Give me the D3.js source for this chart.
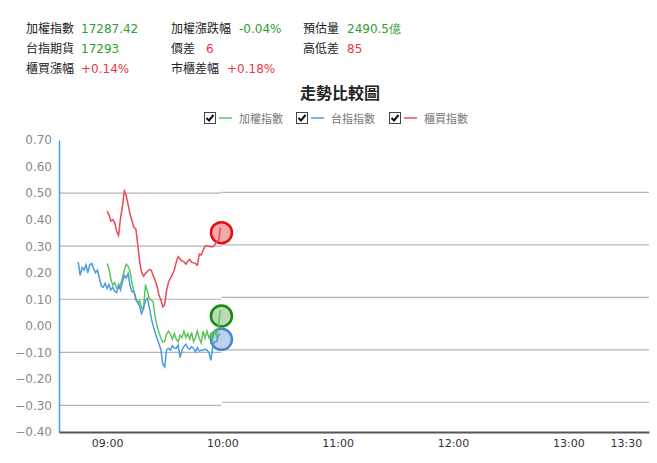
<!DOCTYPE html>
<html>
<head>
<meta charset="utf-8">
<script src="https://cdn.jsdelivr.net/npm/d3@7"></script>
<style>
  body { margin: 0; background: #fff; }
  text { font-family: "DejaVu Sans", Verdana, sans-serif; }
  .cjk { font-family: "Noto Sans CJK TC", "Noto Sans CJK SC", sans-serif; }
</style>
</head>
<body>
<script>
// header info (label, value, colour class)
let infoLabels = [
  ["加權指數", "加權漲跌幅", "預估量"],
  ["台指期貨", "價差", "高低差"],
  ["櫃買漲幅", "市櫃差幅", null],
];
let infoValues = [
  ["17287.42", "-0.04%", "2490.5億"],
  ["17293", "6", "85"],
  ["+0.14%", "+0.18%", null],
];
let infoUp = [
  [false, false, false],
  [false, true, true],
  [true, true, null],
];

let seriesNames = ["加權指數", "台指指數", "櫃買指數"];
let seriesStart = ["09:00", "08:45", "09:00"];

// one value per minute, % change
let taiexValues = [
  0.235, 0.215, 0.175, 0.153, 0.163, 0.142, 0.14, 0.155, 0.18, 0.21,
  0.232, 0.224, 0.205, 0.16, 0.128, 0.105, 0.085, 0.095, 0.065, 0.07,
  0.155, 0.13, 0.103, 0.097, 0.09, 0.035, 0.0, -0.025, -0.046, -0.061,
  -0.058, -0.03, -0.02, -0.032, -0.05, -0.03, -0.05, -0.06, -0.035, -0.045,
  -0.02, -0.045, -0.03, -0.05, -0.025, -0.06, -0.045, -0.02, -0.047, -0.065,
  -0.02, -0.047, -0.02, -0.045, -0.03, -0.05, -0.02, -0.04, 0.0, 0.06,
];
let futuresValues = [
  0.24, 0.19, 0.22, 0.21, 0.23, 0.2, 0.23, 0.235, 0.215, 0.2,
  0.21, 0.18, 0.15, 0.145, 0.16,
  0.14, 0.155, 0.135, 0.145, 0.13, 0.125, 0.155, 0.135, 0.165, 0.19,
  0.18, 0.197, 0.15, 0.128, 0.13, 0.097, 0.09, 0.071, 0.046, 0.065,
  0.097, 0.103, 0.07, 0.03, 0.0, -0.025, -0.048, -0.068, -0.09, -0.145,
  -0.155, -0.09, -0.085, -0.092, -0.075, -0.084, -0.085, -0.072, -0.12, -0.092,
  -0.078, -0.07, -0.083, -0.088, -0.078, -0.085, -0.098, -0.082, -0.095, -0.092,
  -0.092, -0.088, -0.092, -0.1, -0.13, -0.078, -0.06, -0.06, -0.035, -0.03,
];
let otcValues = [
  0.432, 0.418, 0.395, 0.4, 0.388, 0.355, 0.34, 0.405, 0.45, 0.508,
  0.49, 0.455, 0.42, 0.395, 0.37, 0.365, 0.305, 0.241, 0.2, 0.187,
  0.197, 0.205, 0.212, 0.21, 0.19, 0.172, 0.15, 0.115, 0.098, 0.071,
  0.08, 0.135, 0.165, 0.18, 0.193, 0.21, 0.24, 0.26, 0.252, 0.244,
  0.242, 0.232, 0.243, 0.25, 0.24, 0.237, 0.235, 0.228, 0.27, 0.267,
  0.285, 0.3, 0.302, 0.3, 0.298, 0.298, 0.304, 0.317, 0.32, 0.37,
];
// where the end markers sit
let markerValues = [0.037, -0.051, 0.351];

let yTicks = [0.7, 0.6, 0.5, 0.4, 0.3, 0.2, 0.1, 0.0, -0.1, -0.2, -0.3, -0.4];
let gridValues = [0.5, 0.3, 0.1, -0.1, -0.3];
let xTickLabels = ["09:00", "10:00", "11:00", "12:00", "13:00", "13:30"];

let lineColors = ["#5cc65c", "#4a9ae6", "#ea4a56"];
let markerStroke = ["#118a11", "#4f84cf", "#e01010"];
let markerFill = ["#bcd8b6", "#bed2ec", "#f6a9ac"];

let width = 657;
let height = 463;

let parse = d3.timeParse("%H:%M");
let xScale = d3
  .scaleTime()
  .domain([parse("08:35"), parse("13:42")])
  .range([59, 649]);
let yScale = d3.scaleLinear().domain([-0.4, 0.7]).range([432, 140]);
// the part after the last data point sits a touch higher
let yScale2 = d3.scaleLinear().domain([-0.4, 0.7]).range([428.5, 140]);

let svg = d3
  .select("body")
  .append("svg")
  .attr("width", width)
  .attr("height", height);

// header
let colX = [26, 171, 303];
let valX = [[81, 81, 81], [239, 206, 227], [347, 347, 0]];
infoLabels.forEach((row, r) => {
  row.forEach((lab, c) => {
    if (!lab) return;
    let y = 33 + r * 20;
    svg.append("text").attr("class", "cjk")
      .attr("x", colX[c]).attr("y", y)
      .attr("font-size", 12).attr("fill", "#222")
      .text(lab);
    svg.append("text")
      .attr("x", valX[c][r]).attr("y", y)
      .attr("font-size", 12)
      .attr("fill", infoUp[r][c] ? "#e8363f" : "#2f9e2f")
      .text(infoValues[r][c]);
  });
});

svg.append("text").attr("class", "cjk")
  .attr("x", 340).attr("y", 99)
  .attr("text-anchor", "middle")
  .attr("font-size", 16).attr("font-weight", "bold").attr("fill", "#222")
  .text("走勢比較圖");

// legend
let legendX = [204, 296, 389];
seriesNames.forEach((name, i) => {
  let g = svg.append("g").attr("transform", `translate(${legendX[i]},112)`);
  g.append("rect").attr("x", 0.5).attr("y", 0.5).attr("width", 11).attr("height", 11)
    .attr("fill", "#fff").attr("stroke", "#444");
  g.append("path").attr("d", "M2.5,6 L5,8.5 L9.5,3")
    .attr("fill", "none").attr("stroke", "#111").attr("stroke-width", 2);
  g.append("line").attr("x1", 15).attr("x2", 28).attr("y1", 6).attr("y2", 6)
    .attr("stroke", lineColors[i]).attr("stroke-width", 1.5);
  g.append("text").attr("class", "cjk")
    .attr("x", 35).attr("y", 10.5)
    .attr("font-size", 11).attr("fill", "#777")
    .text(name);
});

// grid lines, two pieces
let splitX = xScale(parse("10:00")) - 1;
svg.selectAll(".gridL").data(gridValues).enter().append("line")
  .attr("x1", 59).attr("x2", splitX)
  .attr("y1", (d) => yScale(d)).attr("y2", (d) => yScale(d))
  .attr("stroke", "#b4b4b4").attr("stroke-width", 1.2);
svg.selectAll(".gridR").data(gridValues).enter().append("line")
  .attr("x1", splitX).attr("x2", 649)
  .attr("y1", (d) => yScale2(d)).attr("y2", (d) => yScale2(d))
  .attr("stroke", "#b4b4b4").attr("stroke-width", 1.2);

// y axis
let yAxis = d3.axisLeft(yScale).tickValues(yTicks).tickSize(0).tickPadding(7)
  .tickFormat(d3.format(".2f"));
let yg = svg.append("g").attr("transform", "translate(59,0)").call(yAxis);
yg.select(".domain").attr("stroke", "#4a9ae6").attr("stroke-width", 1.5);
yg.selectAll("text").attr("font-size", 12).attr("fill", "#8a8a8a")
  .attr("font-family", "DejaVu Sans, Verdana, sans-serif");

// x axis
let xAxis = d3.axisBottom(xScale)
  .tickValues(xTickLabels.map(parse))
  .tickSize(0).tickPadding(7)
  .tickFormat(d3.timeFormat("%H:%M"));
let xg = svg.append("g").attr("transform", "translate(0,432)").call(xAxis);
xg.select(".domain").attr("stroke", "#555").attr("stroke-width", 2.2);
xg.selectAll("text").attr("font-size", 11).attr("fill", "#333")
  .attr("font-family", "DejaVu Sans, Verdana, sans-serif");

// series points
let allValues = [taiexValues, futuresValues, otcValues];
let line = d3.line().x((d) => xScale(d.t)).y((d) => yScale(d.v));
let series = allValues.map((vals, i) => {
  let start = parse(seriesStart[i]);
  return vals.map((v, k) => ({ t: d3.timeMinute.offset(start, k), v: v }));
});

// end markers (under the lines)
series.forEach((pts, i) => {
  let last = pts[pts.length - 1];
  svg.append("circle")
    .attr("cx", xScale(last.t) + 1).attr("cy", yScale(markerValues[i]))
    .attr("r", 10.5)
    .attr("fill", markerFill[i])
    .attr("stroke", markerStroke[i]).attr("stroke-width", 2.5);
});

series.forEach((pts, i) => {
  svg.append("path").datum(pts)
    .attr("fill", "none")
    .attr("stroke", lineColors[i])
    .attr("stroke-width", 1.5)
    .attr("d", line);
});
</script>
</body>
</html>
